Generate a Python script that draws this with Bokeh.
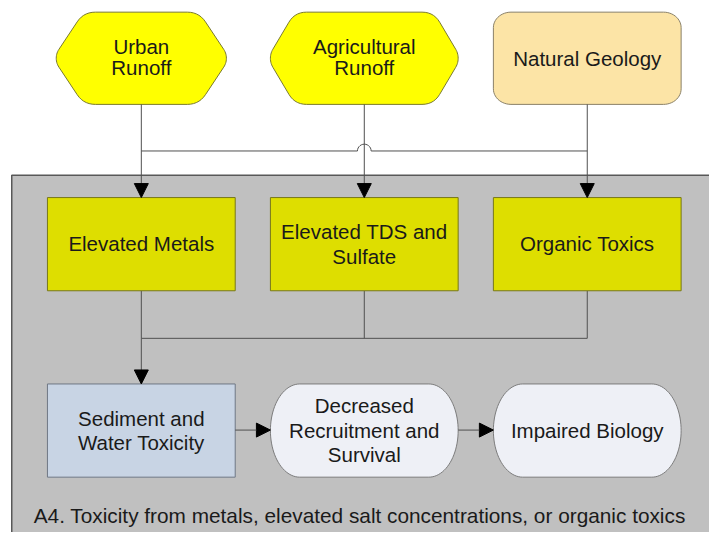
import numpy as np
from bokeh.plotting import figure
from bokeh.models import Range1d, Arrow, NormalHead
from bokeh.core.properties import value
from bokeh.embed import file_html
from bokeh.resources import INLINE

# ---------------- data (texts of the diagram) ----------------
source_labels = ["Urban\nRunoff", "Agricultural\nRunoff", "Natural Geology"]
stressor_labels = ["Elevated Metals", "Elevated TDS and\nSulfate", "Organic Toxics"]
effect_labels = ["Sediment and\nWater Toxicity", "Decreased\nRecruitment and\nSurvival", "Impaired Biology"]
caption = "A4. Toxicity from metals, elevated salt concentrations, or organic toxics"

# ---------------- layout (reference pixel coords, y downwards) ----------------
col_x = [144, 372, 600]
box_hw = 96
src_top, src_bot = 12, 107
str_top, str_bot = 203, 299
eff_top, eff_bot = 395, 491
join_y1, join_y2 = 155, 348
panel_top, panel_left = 180, 11.5

FONT = value("Liberation Sans")
TXT = "#1a1a1a"
LINE = "#505050"

p = figure(width=709, height=532, x_range=Range1d(0, 725), y_range=Range1d(548, 0),
           output_backend="svg", toolbar_location=None, min_border=0,
           x_axis_location=None, y_axis_location=None)
p.grid.visible = False
p.outline_line_color = None
p.background_fill_color = "white"
p.border_fill_color = "white"


def rounded_poly(pts, r, n=8):
    xs, ys = [], []
    N = len(pts)
    for i in range(N):
        p0 = np.array(pts[i - 1], float)
        p1 = np.array(pts[i], float)
        p2 = np.array(pts[(i + 1) % N], float)
        d1, d2 = p0 - p1, p2 - p1
        l1, l2 = np.linalg.norm(d1), np.linalg.norm(d2)
        rr = min(r, l1 / 2, l2 / 2)
        a = p1 + d1 / l1 * rr
        b = p1 + d2 / l2 * rr
        for t in np.linspace(0, 1, n):
            q = (1 - t) ** 2 * a + 2 * (1 - t) * t * p1 + t ** 2 * b
            xs.append(q[0]); ys.append(q[1])
    return xs, ys


def round_rect(x0, x1, y0, y1, rx, ry, n=14):
    xs, ys = [], []
    corners = [(x1 - rx, y0 + ry, -90, 0), (x1 - rx, y1 - ry, 0, 90),
               (x0 + rx, y1 - ry, 90, 180), (x0 + rx, y0 + ry, 180, 270)]
    for cx, cy, a0, a1 in corners:
        for a in np.radians(np.linspace(a0, a1, n)):
            xs.append(cx + rx * np.cos(a)); ys.append(cy + ry * np.sin(a))
    return xs, ys


# grey panel
p.quad(left=panel_left, right=760, top=panel_top, bottom=580,
       fill_color="#C0C0C0", line_color="#585858", line_width=1.5)

# ---- source shapes ----
hex_dims = [(87, 59), (96, 71)]
ym = (src_top + src_bot) / 2
for cx, (hw, tw) in zip(col_x[:2], hex_dims):
    pts = [(cx - tw, src_top), (cx + tw, src_top), (cx + hw, ym - 5), (cx + hw, ym + 5),
           (cx + tw, src_bot), (cx - tw, src_bot), (cx - hw, ym + 5), (cx - hw, ym - 5)]
    hx, hy = rounded_poly(pts, 12)
    p.patch(hx, hy, fill_color="#FFFF00", line_color="#7a7a30", line_width=1)

gx, gy = round_rect(col_x[2] - 96, col_x[2] + 96, src_top, src_bot, 18, 16)
p.patch(gx, gy, fill_color="#FCE4A6", line_color="#8a8068", line_width=1)

# ---- connectors ----
hop_r = 7
th = np.linspace(np.pi, 0, 15)
hop_x = list(col_x[1] + hop_r * np.cos(th))
hop_y = list(join_y1 - hop_r * np.sin(th))
xs = [[col_x[0], col_x[1] - hop_r] + hop_x + [col_x[1] + hop_r, col_x[2]]]
ys = [[join_y1, join_y1] + hop_y + [join_y1, join_y1]]
for cx in col_x:
    xs.append([cx, cx]); ys.append([src_bot, str_top - 12])
for cx in col_x:
    xs.append([cx, cx]); ys.append([str_bot, join_y2])
xs.append([col_x[0], col_x[2]]); ys.append([join_y2, join_y2])
xs.append([col_x[0], col_x[0]]); ys.append([join_y2, eff_top - 12])
p.multi_line(xs, ys, line_color=LINE, line_width=1)

eff_mid = (eff_top + eff_bot) / 2 - 0.5
arrow_specs = [(cx, str_top - 14, cx, str_top) for cx in col_x]
arrow_specs.append((col_x[0], eff_top - 14, col_x[0], eff_top))
arrow_specs.append((col_x[0] + box_hw, eff_mid, col_x[1] - box_hw, eff_mid))
arrow_specs.append((col_x[1] + box_hw, eff_mid, col_x[2] - box_hw, eff_mid))
for x0, y0, x1, y1 in arrow_specs:
    p.add_layout(Arrow(end=NormalHead(size=14, fill_color="black", line_color="black", line_width=1),
                       x_start=x0, y_start=y0, x_end=x1, y_end=y1,
                       line_color=LINE, line_width=1))

# ---- stressor boxes ----
p.quad(left=[c - box_hw for c in col_x], right=[c + box_hw for c in col_x],
       top=str_top, bottom=str_bot, fill_color="#DEDE00", line_color="#77771a", line_width=1)

# ---- effect shapes ----
p.quad(left=col_x[0] - box_hw, right=col_x[0] + box_hw, top=eff_top, bottom=eff_bot,
       fill_color="#C8D4E4", line_color="#6f7884", line_width=1)
for cx in col_x[1:]:
    sx, sy = round_rect(cx - box_hw, cx + box_hw, eff_top, eff_bot, 30, 48, n=24)
    p.patch(sx, sy, fill_color="#EEF0F6", line_color="#7c7c7c", line_width=1)

# ---- texts ----
p.text(x=col_x[:2], y=[ym - 1.5, ym - 1.5], text=source_labels[:2], text_align="center",
       text_baseline="middle", text_font=FONT, text_font_size="20.5px", text_color=TXT,
       text_line_height=0.9)
p.text(x=[col_x[2]], y=[ym], text=[source_labels[2]], text_align="center",
       text_baseline="middle", text_font=FONT, text_font_size="20.5px", text_color=TXT)
p.text(x=col_x, y=[(str_top + str_bot) / 2 - 0.5] * 3, text=stressor_labels, text_align="center",
       text_baseline="middle", text_font=FONT, text_font_size="20.5px", text_color=TXT,
       text_line_height=1.1)
p.text(x=col_x, y=[eff_mid] * 3, text=effect_labels, text_align="center",
       text_baseline="middle", text_font=FONT, text_font_size="20.5px", text_color=TXT,
       text_line_height=1.05)
p.text(x=[34], y=[531], text=[caption], text_align="left", text_baseline="middle",
       text_font=FONT, text_font_size="20.8px", text_color=TXT)

open("out.html", "w").write(file_html(p, INLINE))
